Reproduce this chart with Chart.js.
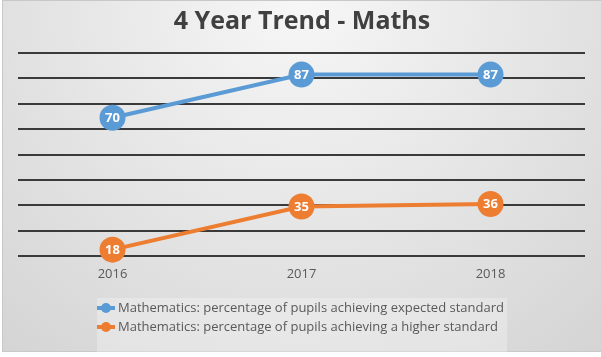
<!DOCTYPE html>
<html>
<head>
<meta charset="utf-8">
<script src="https://cdn.jsdelivr.net/npm/chart.js@4/dist/chart.umd.min.js"></script>
<style>
  html, body { margin: 0; padding: 0; background: #ffffff; }
  #wrap { width: 601px; height: 357px; position: relative; }
</style>
</head>
<body>
<div id="wrap"><canvas id="c" width="601" height="357"></canvas></div>
<script>
const titleText = '4 Year Trend - Maths';
const categories = ['2016', '2017', '2018'];
const expectedStandard = [70, 87, 87];
const higherStandard = [18, 35, 36];
const seriesLabels = [
  'Mathematics: percentage of pupils achieving expected standard',
  'Mathematics: percentage of pupils achieving a higher standard'
];
const seriesColors = ['#5b9bd5', '#ed7d31'];

const bgPlugin = {
  id: 'bg',
  beforeDraw(chart) {
    const ctx = chart.ctx;
    ctx.save();
    ctx.fillStyle = '#ffffff';
    ctx.fillRect(0, 0, chart.width, chart.height);
    const g = ctx.createRadialGradient(300, 0, 10, 300, 0, 680);
    g.addColorStop(0, '#f6f6f6');
    g.addColorStop(1, '#c4c4c4');
    ctx.fillStyle = g;
    ctx.fillRect(2, 1, chart.width - 2, 351);
    ctx.strokeStyle = '#c8c8c8';
    ctx.lineWidth = 1;
    ctx.strokeRect(2.5, 0.5, chart.width - 2, 351);
    // legend box
    ctx.fillStyle = 'rgba(255,255,255,0.28)';
    ctx.fillRect(97, 298, 410, 54);
    // title
    ctx.fillStyle = '#404040';
    ctx.font = 'bold 25px "Open Sans"';
    ctx.textAlign = 'center';
    ctx.textBaseline = 'alphabetic';
    ctx.fillText(titleText, 302, 29);
    ctx.restore();
  }
};

const labelPlugin = {
  id: 'pointLabels',
  afterDatasetsDraw(chart) {
    const ctx = chart.ctx;
    ctx.save();
    ctx.fillStyle = '#ffffff';
    ctx.font = 'bold 13px "Open Sans"';
    ctx.textAlign = 'center';
    ctx.textBaseline = 'middle';
    chart.data.datasets.forEach((ds, i) => {
      const meta = chart.getDatasetMeta(i);
      meta.data.forEach((pt, j) => {
        ctx.fillText(String(ds.data[j]), pt.x, pt.y + 0.5);
      });
    });
    ctx.restore();
  }
};

const legendPlugin = {
  id: 'customLegend',
  afterDraw(chart) {
    const ctx = chart.ctx;
    ctx.save();
    ctx.font = '13px "Open Sans"';
    ctx.textAlign = 'left';
    ctx.textBaseline = 'middle';
    chart.data.datasets.forEach((ds, i) => {
      const y = 308 + i * 19;
      ctx.strokeStyle = ds.borderColor;
      ctx.lineWidth = 4;
      ctx.beginPath();
      ctx.moveTo(97, y);
      ctx.lineTo(115, y);
      ctx.stroke();
      ctx.fillStyle = ds.borderColor;
      ctx.beginPath();
      ctx.arc(106, y, 5, 0, Math.PI * 2);
      ctx.fill();
      ctx.fillStyle = '#595959';
      ctx.fillText(ds.label, 118, y + 0.5);
    });
    ctx.restore();
  }
};

new Chart(document.getElementById('c'), {
  type: 'line',
  data: {
    labels: categories,
    datasets: [
      {
        label: seriesLabels[0],
        data: expectedStandard,
        borderColor: seriesColors[0],
        backgroundColor: seriesColors[0],
        pointBackgroundColor: seriesColors[0],
        pointBorderColor: seriesColors[0],
        borderWidth: 4,
        pointRadius: 13,
        pointBorderWidth: 0,
        tension: 0,
        clip: false
      },
      {
        label: seriesLabels[1],
        data: higherStandard,
        borderColor: seriesColors[1],
        backgroundColor: seriesColors[1],
        pointBackgroundColor: seriesColors[1],
        pointBorderColor: seriesColors[1],
        borderWidth: 4,
        pointRadius: 13,
        pointBorderWidth: 0,
        tension: 0,
        clip: false
      }
    ]
  },
  options: {
    responsive: false,
    animation: false,
    layout: { padding: { left: 18, right: 16, top: 53, bottom: 71 } },
    plugins: {
      legend: { display: false },
      title: { display: false },
      tooltip: { enabled: false }
    },
    scales: {
      x: {
        offset: true,
        grid: { display: false, drawTicks: false },
        border: { display: false },
        ticks: { color: '#595959', font: { family: 'Open Sans', size: 13 }, padding: 10 },
        afterFit(scale) { scale.height = 30; }
      },
      y: {
        min: 15.5,
        max: 95.5,
        ticks: { display: false, stepSize: 10 },
        grid: { color: '#3a3a3a', lineWidth: 2, drawTicks: false },
        border: { display: false },
        afterFit(scale) { scale.width = 0; }
      }
    }
  },
  plugins: [bgPlugin, labelPlugin, legendPlugin]
});
</script>
</body>
</html>
